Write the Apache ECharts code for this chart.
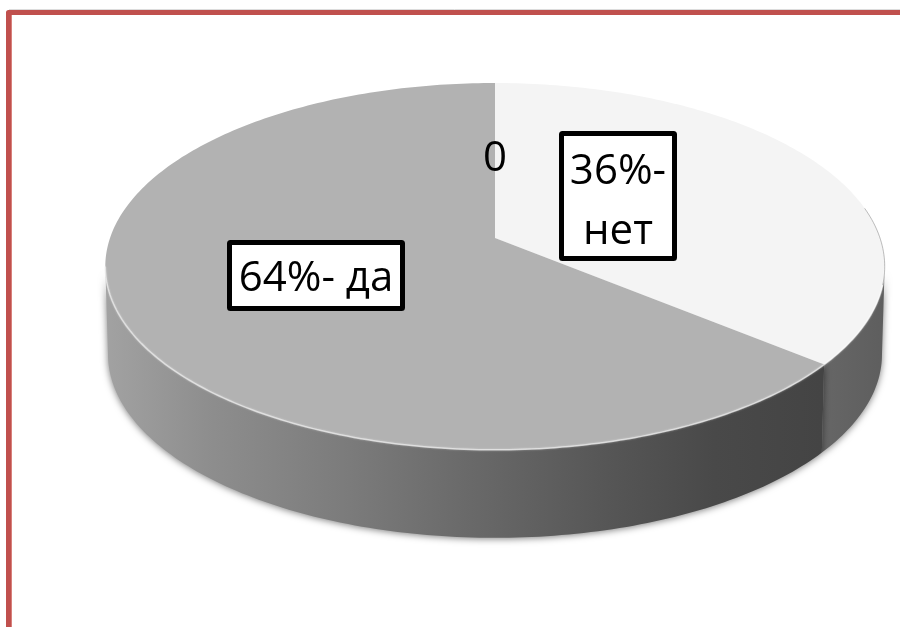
<!DOCTYPE html>
<html>
<head>
<meta charset="utf-8">
<style>html,body{margin:0;padding:0;background:#fff}#c{width:900px;height:627px}</style>
<script src="https://cdn.jsdelivr.net/npm/echarts@6/dist/echarts.min.js"></script>
</head>
<body>
<div id="c"></div>
<script>
const categories = ['0', '36%-\nнет', '64%- да'];
const values = [0, 36, 64];
const topColors = ['#f4f4f4', '#f4f4f4', '#b2b2b2'];

const total = values.reduce((a, b) => a + b, 0);
const CX = 495, CY = 238, RX = 385, RY = 179, K = 0.155, DEPTH = 88, SHRINK = 0.993;
const SIL = Math.PI - Math.acos(K);

function rim(t) {
  const u = Math.sin(t), v = Math.cos(t), w = 1 + K * v;
  return [CX + RX * u / w, CY - RY * v / w];
}
function low(t) {
  const p = rim(t);
  return [CX + (p[0] - CX) * SHRINK, p[1] + DEPTH];
}
function span(i) {
  let s = 0;
  for (let j = 0; j < i; j++) s += values[j];
  return [s / total * 2 * Math.PI, (s + values[i]) / total * 2 * Math.PI];
}
function arc(a, b, f) {
  const pts = [], n = Math.max(2, Math.ceil((b - a) * 60));
  for (let i = 0; i <= n; i++) pts.push(f(a + (b - a) * i / n));
  return pts;
}
const wallFill = [
  null,
  new echarts.graphic.LinearGradient(815, 0, 885, 0, [
    {offset: 0, color: '#6e6e6e'}, {offset: .12, color: '#666'}, {offset: 1, color: '#5e5e5e'}], true),
  new echarts.graphic.LinearGradient(106, 0, 822, 0, [
    {offset: 0, color: '#a2a2a2'}, {offset: .14, color: '#8e8e8e'}, {offset: .34, color: '#7b7b7b'},
    {offset: .5, color: '#6a6a6a'}, {offset: .7, color: '#565656'}, {offset: .85, color: '#494949'},
    {offset: 1, color: '#444444'}], true)
];

function renderWall(params, api) {
  const i = params.dataIndex, sp = span(i);
  const a = Math.max(sp[0], SIL), b = Math.min(sp[1], 2 * Math.PI - SIL);
  if (api.value(0) === 0 || b <= a) return {type: 'group', children: []};
  const pts = arc(a, b, rim).concat(arc(a, b, low).reverse());
  return {
    type: 'polygon', shape: {points: pts},
    style: {fill: wallFill[i], stroke: null, shadowBlur: 7, shadowColor: 'rgba(0,0,0,0.5)', shadowOffsetY: 1}
  };
}
function renderTop(params, api) {
  const i = params.dataIndex, sp = span(i);
  if (api.value(0) === 0) return {type: 'group', children: []};
  const pts = [[CX, CY]].concat(arc(sp[0], sp[1], rim));
  const kids = [{type: 'polygon', shape: {points: pts}, style: {fill: topColors[i], stroke: null}}];
  const a = Math.max(sp[0], SIL), b = Math.min(sp[1], 2 * Math.PI - SIL);
  if (b > a) kids.push({
    type: 'polyline', shape: {points: arc(a, b, rim)},
    style: {fill: null, stroke: i === 2 ? 'rgba(235,235,235,0.7)' : 'rgba(255,255,255,0.6)', lineWidth: 1.5,
      shadowBlur: 2, shadowColor: 'rgba(255,255,255,0.6)'}
  });
  if (i === 1) kids.push({
    type: 'polyline', shape: {points: arc(1.4, SIL + 0.1, rim)},
    style: {fill: null, stroke: 'rgba(110,110,110,0.45)', lineWidth: 1}
  });
  return {type: 'group', children: kids};
}
function renderLabel(params, api) {
  const i = params.dataIndex, txt = categories[i];
  const textStyle = {text: txt, fontFamily: '"Open Sans"', fontSize: 42, lineHeight: 60, fill: '#000', align: 'center', verticalAlign: 'middle'};
  if (i === 0) return {type: 'text', style: Object.assign({x: CX, y: 159}, textStyle)};
  const box = i === 1 ? {x: 561.5, y: 133.5, width: 113, height: 125} : {x: 229.5, y: 242.5, width: 173, height: 66};
  const dy = i === 1 ? 6 : 4;
  return {type: 'group', children: [
    {type: 'rect', shape: Object.assign({r: 1}, box), style: {fill: '#fff', stroke: '#000', lineWidth: 5}},
    {type: 'text', style: Object.assign({x: box.x + box.width / 2, y: box.y + box.height / 2 + dy}, textStyle)}
  ]};
}
const seriesData = values.map(v => [v]);
const chart = echarts.init(document.getElementById('c'), null, {renderer: 'canvas'});
chart.setOption({
  animation: false,
  backgroundColor: '#fff',
  graphic: [
    {type: 'polyline', z: 0, shape: {points: [[900, 9.5], [9, 9.5]]},
     style: {fill: null, stroke: '#dcdcdc', lineWidth: 1}},
    {type: 'polyline', z: 0, shape: {points: [[11.2, 627], [11.2, 15]]},
     style: {fill: null, stroke: '#d8807b', lineWidth: 1.6}},
    {type: 'polyline', z: 0, shape: {points: [[8.5, 627], [8.5, 12.5], [900, 12.5]]},
     style: {fill: null, stroke: '#c0504d', lineWidth: 5, lineJoin: 'round'}}
  ],
  series: [
    {type: 'custom', coordinateSystem: 'none', silent: true, z: 2, renderItem: renderWall, data: seriesData},
    {type: 'custom', coordinateSystem: 'none', silent: true, z: 3, renderItem: renderTop, data: seriesData},
    {type: 'custom', coordinateSystem: 'none', silent: true, z: 4, renderItem: renderLabel, data: seriesData}
  ]
});
</script>
</body>
</html>
